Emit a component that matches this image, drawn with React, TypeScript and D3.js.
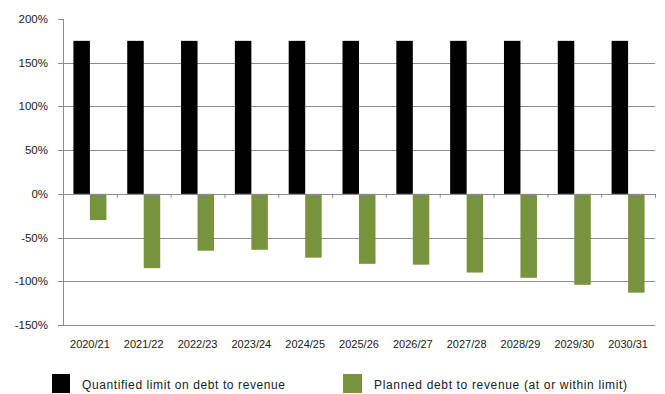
import React from "react";
import * as d3 from "d3";

const categories = ["2020/21","2021/22","2022/23","2023/24","2024/25","2025/26","2026/27","2027/28","2028/29","2029/30","2030/31"];
const seriesNames = ["Quantified limit on debt to revenue","Planned debt to revenue (at or within limit)"];
const limitValues = [175,175,175,175,175,175,175,175,175,175,175];
const plannedValues = [-30,-85,-65,-64,-73,-80,-81,-90,-96,-104,-113];
const yTicks = [200,150,100,50,0,-50,-100,-150];
const colors = ["#000000", "#77933C"];

const W = 665, H = 394;
const left = 63, right = 655, top = 19, bottom = 325;

export default function App() {
  const x0 = d3.scaleBand<string>().domain(categories).range([left, right]).paddingInner(0.387).paddingOuter(0.1935);
  const x1 = d3.scaleBand<string>().domain(seriesNames).range([0, x0.bandwidth()]);
  const y = d3.scaleLinear().domain([-150, 200]).range([bottom, top]);
  const step = x0.step();
  const series = [limitValues, plannedValues];
  const font = "'Liberation Sans', Arial, sans-serif";
  const grid = "#8c8c8c";

  return (
    <svg width={W} height={H} style={{ position: "absolute", left: 0, top: 0, background: "#fff" }}>
      {yTicks.filter(t => t !== 200 && t !== 0).map(t => (
        <line key={"g" + t} x1={left} x2={right} y1={Math.round(y(t)) + 0.5} y2={Math.round(y(t)) + 0.5} stroke={grid} strokeWidth={1} />
      ))}
      {yTicks.map(t => (
        <g key={"t" + t}>
          <line x1={left - 5} x2={left} y1={Math.round(y(t)) + 0.5} y2={Math.round(y(t)) + 0.5} stroke={grid} />
          <text x={left - 15} y={y(t)} dy="0.35em" textAnchor="end" fontFamily={font} fontSize={11.5} fill="#1a1a1a">{t + "%"}</text>
        </g>
      ))}
      {series.map((vals, si) => (
        <g key={"s" + si}>
          {categories.map((c, i) => {
            const v = vals[i];
            const bx = (x0(c) as number) + (x1(seriesNames[si]) as number);
            return <rect key={c} x={bx} width={x1.bandwidth()} y={y(Math.max(0, v))} height={Math.abs(y(v) - y(0))} fill={colors[si]} />;
          })}
        </g>
      ))}
      <line x1={left + 0.5} x2={left + 0.5} y1={top} y2={bottom} stroke={grid} />
      <line x1={left} x2={right} y1={Math.round(y(0)) + 0.5} y2={Math.round(y(0)) + 0.5} stroke={grid} />
      {d3.range(categories.length + 1).map(i => (
        <line key={"ct" + i} x1={left + i * step + 0.5} x2={left + i * step + 0.5} y1={y(0)} y2={y(0) + 4} stroke={grid} />
      ))}
      {categories.map(c => (
        <text key={"l" + c} x={(x0(c) as number) + x0.bandwidth() / 2} y={344} dy="0.35em" textAnchor="middle" fontFamily={font} fontSize={11} fill="#1a1a1a">{c}</text>
      ))}
      <rect x={52} y={374} width={18} height={19} fill={colors[0]} />
      <text x={82} y={385} dy="0.35em" fontFamily={font} fontSize={12} fill="#1a1a1a" textLength={203} lengthAdjust="spacing">{seriesNames[0]}</text>
      <rect x={343} y={374} width={19} height={19} fill={colors[1]} />
      <text x={374} y={385} dy="0.35em" fontFamily={font} fontSize={12} fill="#1a1a1a" textLength={253} lengthAdjust="spacing">{seriesNames[1]}</text>
    </svg>
  );
}
